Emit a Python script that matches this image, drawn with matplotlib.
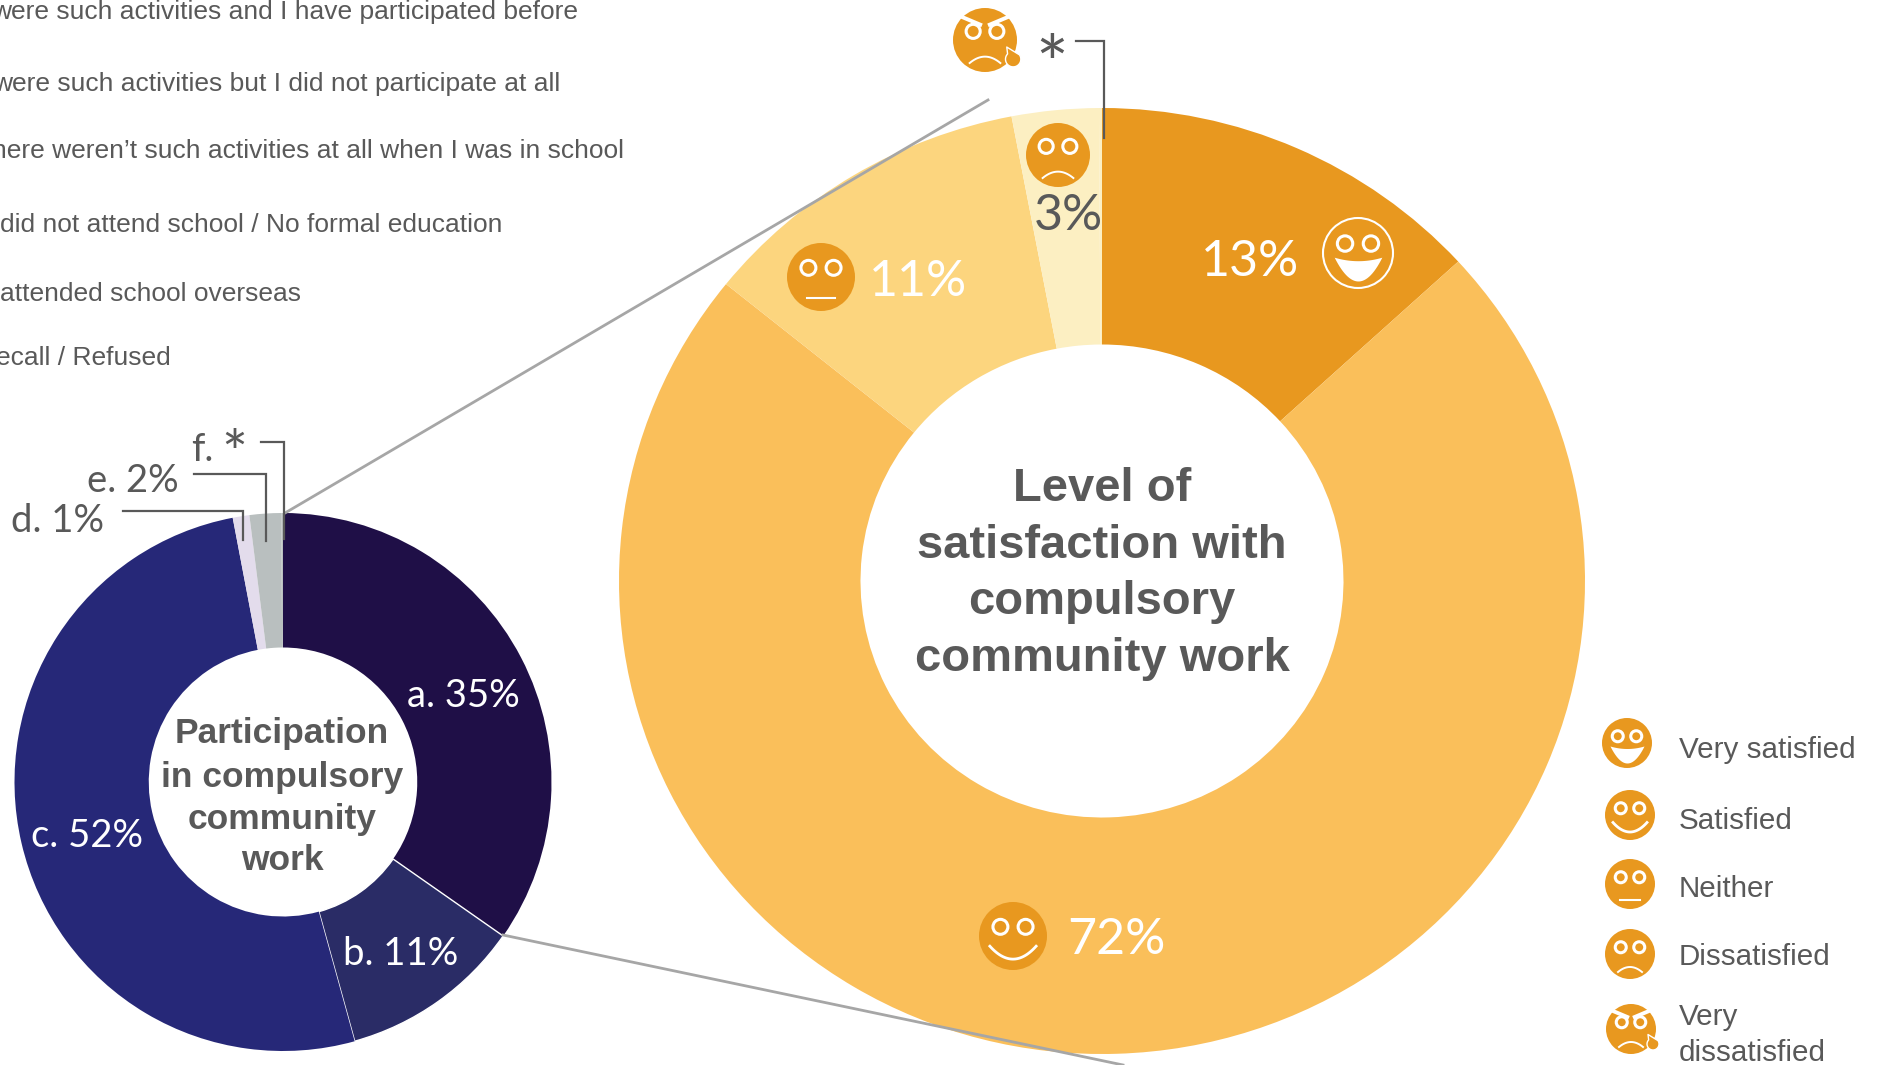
"""
Two linked donuts: participation in compulsory community work, and satisfaction
among those who took part.
"""
import matplotlib
matplotlib.use('Agg')
import matplotlib.pyplot as plt
import matplotlib.patches as mpatches
import numpy as np

W, H = 1879, 1065
GREY = '#595959'
ORANGE = '#e8981f'
LABEL_FONT = ['Lato', 'DejaVu Sans']
BODY_FONT = ['Liberation Sans', 'DejaVu Sans']

# data
participation = [34.7, 11.0, 51.3, 1.0, 1.9, 0.1]
participation_colors = ['#1f0f47', '#2a2c66', '#262878', '#e3dcec', '#b9bfbf', '#b9bfbf']
participation_labels = ['a. 35%', 'b. 11%', 'c. 52%', 'd. 1%', 'e. 2%', 'f.', '*']

satisfaction = [13.2, 72.6, 11.2, 2.9, 0.1]
satisfaction_colors = ['#e8981f', '#fabf5a', '#fcd57e', '#fcefc2', '#fcefc2']
satisfaction_labels = ['13%', '72%', '11%', '3%', '*']

answer_lines = ['were such activities and I have participated before',
                'were such activities but I did not participate at all',
                'here weren\u2019t such activities at all when I was in school',
                'did not attend school / No formal education',
                'attended school overseas',
                'ecall / Refused']
legend_labels = ['Very satisfied', 'Satisfied', 'Neither', 'Dissatisfied', 'Very\ndissatisfied']
legend_kinds = ['very_happy', 'happy', 'neither', 'sad', 'very_sad']

fig = plt.figure(figsize=(W/100, H/100), dpi=100, facecolor='white')


def donut(values, colors, cx, cy, rx, ry, edge_idx=()):
    # axes box in pixels, y counted from the top
    ax = fig.add_axes([(cx-rx)/W, 1-(cy+ry)/H, 2*rx/W, 2*ry/H])
    wedges, _ = ax.pie(values, colors=colors, startangle=90, counterclock=False,
                       radius=1, wedgeprops=dict(width=0.5))
    ax.set_aspect('auto')
    ax.set_xlim(-1, 1); ax.set_ylim(-1, 1)
    for i in edge_idx:
        wedges[i].set_edgecolor('white'); wedges[i].set_linewidth(1.0)
    return ax


donut(participation, participation_colors, 283, 782, 268.5, 269, edge_idx=[1])
donut(satisfaction, satisfaction_colors, 1102, 581, 483, 473)

# overlay in reference pixels
ov = fig.add_axes([0, 0, 1, 1], zorder=5)
ov.set_xlim(0, W); ov.set_ylim(H, 0); ov.axis('off')


def face(cx, cy, r, kind, fg='white', bg=ORANGE, outline=False):
    ov.add_patch(mpatches.Circle((cx, cy), r, fc=bg, ec=fg if outline else 'none', lw=1.5))
    for sx in (-0.37, 0.37):
        ov.add_patch(mpatches.Circle((cx+sx*r, cy-0.27*r), 0.22*r, fc='none', ec=fg, lw=2.2))
    t = np.linspace(-1, 1, 30)
    x = cx + t*0.68*r
    if kind == 'very_happy':
        top = cy + 0.12*r + 0.1*r*(1-t**2)
        bot = cy + 0.12*r + 0.68*r*(1-t**2)
        ov.fill_between(x, top, bot, color=fg, lw=0)
    elif kind == 'happy':
        ov.plot(x, cy + 0.3*r + 0.38*r*(1-t**2), color=fg, lw=2.0)
    elif kind == 'neither':
        ov.plot([cx-0.4*r, cx+0.4*r], [cy+0.62*r, cy+0.62*r], color=fg, lw=1.5)
    else:
        ov.plot(cx + t*0.48*r, cy + 0.72*r - 0.2*r*(1-t**2), color=fg, lw=1.4)
    if kind == 'very_sad':
        for sx in (-1, 1):
            ov.plot([cx+sx*0.72*r, cx+sx*0.15*r], [cy-0.72*r, cy-0.48*r], color=fg, lw=2.8)
        # teardrop: round body with a point towards the eye
        a = np.linspace(-0.6, 3.9, 30)
        dx = cx + 0.88*r + 0.24*r*np.cos(a)
        dy = cy + 0.6*r + 0.24*r*np.sin(a)
        pts = np.column_stack([np.r_[dx, cx+0.68*r], np.r_[dy, cy+0.22*r]])
        ov.add_patch(mpatches.Polygon(pts, fc=bg, ec='white', lw=1.0, joinstyle='round'))


# series lines between the two donuts
ov.plot([285, 988], [513, 100], color='#a6a6a6', lw=2.0)
ov.plot([503, 1123], [935, 1065], color='#a6a6a6', lw=2.0)

# leader lines
for xs, ys in [([1076, 1104, 1104], [41, 41, 138]),
               ([123, 243, 243], [511, 511, 540]),
               ([194, 266, 266], [474, 474, 541]),
               ([261, 284, 284], [442, 442, 539])]:
    ov.plot(xs, ys, color=GREY, lw=1.6, solid_joinstyle='miter')

# donut labels
for s, x, y, c, fs in [(participation_labels[0], 463, 696, 'white', 27.5),
                       (participation_labels[1], 401, 954, 'white', 27.5),
                       (participation_labels[2], 87, 836, 'white', 27.5),
                       (participation_labels[3], 58, 521, GREY, 27.5),
                       (participation_labels[4], 133, 481, GREY, 27.5),
                       (participation_labels[5], 202, 450, GREY, 27.5),
                       (participation_labels[6], 234, 457, GREY, 44),
                       (satisfaction_labels[0], 1250, 262, 'white', 36),
                       (satisfaction_labels[1], 1116, 940, 'white', 36),
                       (satisfaction_labels[2], 918, 282, 'white', 36),
                       (satisfaction_labels[3], 1068, 216, GREY, 36),
                       (satisfaction_labels[4], 1052, 70, GREY, 56)]:
    ov.text(x, y, s, ha='center', va='center', color=c, fontsize=fs, family=LABEL_FONT)

# faces on the big donut
face(1358, 253, 35, 'very_happy', outline=True)
face(1013, 936, 34, 'happy')
face(821, 277, 34, 'neither')
face(1058, 155, 32, 'sad')
face(985, 40, 32, 'very_sad')

# centre titles
for s, y in zip(['Level of', 'satisfaction with', 'compulsory', 'community work'], [489, 546, 602, 659]):
    ov.text(1102, y, s, ha='center', va='center', color=GREY, fontsize=33.9,
            fontweight='bold', family=BODY_FONT)
for s, y in zip(['Participation', 'in compulsory', 'community', 'work'], [734, 777, 819, 861]):
    ov.text(282, y, s, ha='center', va='center', color=GREY, fontsize=25.5,
            fontweight='bold', family=BODY_FONT)

# answer list, cut off by the left edge as in the source
for s, xr, y in zip(answer_lines, [578, 560, 624, 502, 301, 171], [12, 84, 151, 225, 294, 358]):
    ov.text(xr, y, s, ha='right', va='center', color=GREY, fontsize=19, family=BODY_FONT)

# legend
for s, k, fy, ty, fx in zip(legend_labels, legend_kinds, [743, 815, 884, 954, 1029],
                            [750, 821, 889, 957, 1035], [1627, 1630, 1630, 1630, 1631]):
    face(fx, fy, 25, k)
    ov.text(1679, ty, s, ha='left', va='center', color=GREY, fontsize=21.3,
            family=BODY_FONT, linespacing=1.36)

fig.savefig('out.png', dpi=100, facecolor='white')
plt.close()
